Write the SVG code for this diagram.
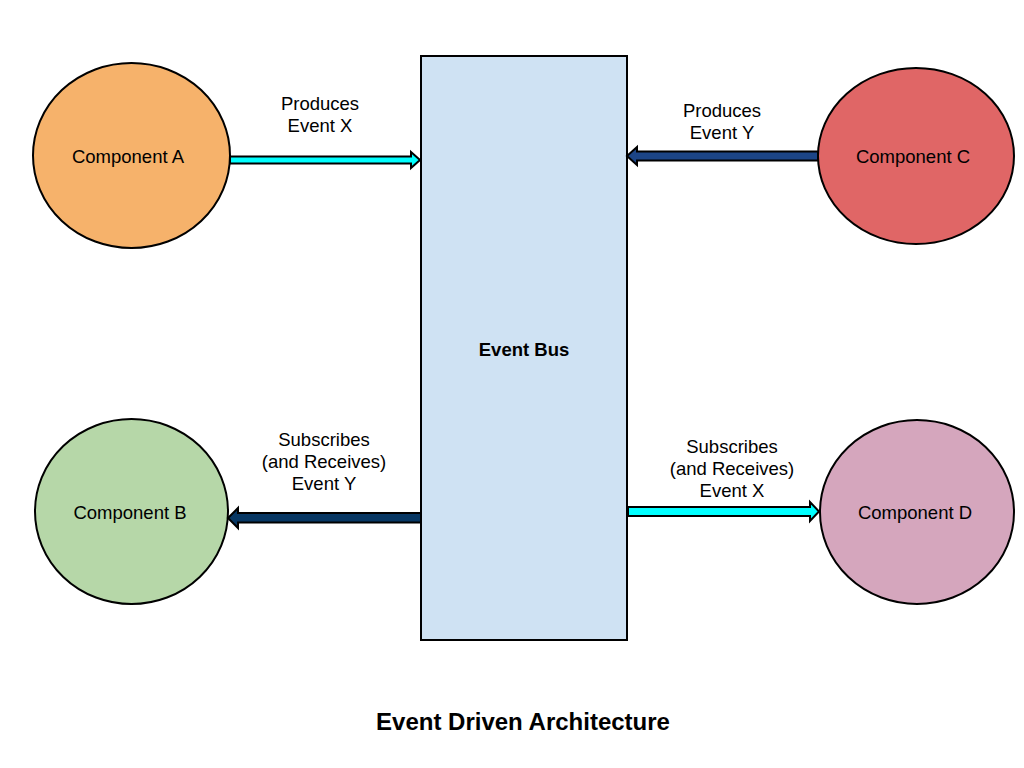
<svg xmlns="http://www.w3.org/2000/svg" width="1024" height="768" viewBox="0 0 1024 768">
<style>
.node{stroke:#000;stroke-width:2}
.lbl{font-family:"Liberation Sans",Arial,sans-serif;font-size:18.5px;fill:#000;text-anchor:middle}
.b{font-weight:bold}
.title{font-size:24px}
.arr{stroke:#000;stroke-width:2;stroke-linejoin:miter}
</style>
<rect width="1024" height="768" fill="#fff"/>
<g id="bus">
<rect class="node" x="421" y="56" width="206" height="584" fill="#CFE2F3" stroke-width="1.5"/>
<text class="lbl b" x="524" y="356">Event Bus</text>
</g>
<g id="compA">
<ellipse class="node" cx="131.5" cy="155.5" rx="98.5" ry="92.5" fill="#F6B26B"/>
<text class="lbl" x="128" y="163">Component A</text>
</g>
<g id="compB">
<ellipse class="node" cx="131.5" cy="511.5" rx="96.5" ry="92.5" fill="#B6D7A8"/>
<text class="lbl" x="130" y="519">Component B</text>
</g>
<g id="compC">
<ellipse class="node" cx="916" cy="156" rx="98" ry="88" fill="#E06666"/>
<text class="lbl" x="913" y="163">Component C</text>
</g>
<g id="compD">
<ellipse class="node" cx="917" cy="512" rx="97" ry="92" fill="#D5A6BD"/>
<text class="lbl" x="915" y="519">Component D</text>
</g>
<g id="connectors">
<polygon class="arr" fill="#00FFFF" points="230,156.5 411,156.5 411,152 420,160 411,168 411,163.5 230,163.5"/>
<polygon class="arr" fill="#1C4587" points="818,151.5 637,151.5 637,147 627,156 637,165 637,160.5 818,160.5"/>
<polygon class="arr" fill="#073763" points="421,513 238,513 238,508 228,518 238,528 238,522.5 421,522.5"/>
<polygon class="arr" fill="#00FFFF" points="628,507 810,507 810,502 819,511.5 810,521 810,516 628,516"/>
<text class="lbl" x="320" y="110">Produces</text>
<text class="lbl" x="320" y="132">Event X</text>
<text class="lbl" x="722" y="117">Produces</text>
<text class="lbl" x="722" y="139">Event Y</text>
<text class="lbl" x="324" y="446">Subscribes</text>
<text class="lbl" x="324" y="468">(and Receives)</text>
<text class="lbl" x="324" y="490">Event Y</text>
<text class="lbl" x="732" y="453">Subscribes</text>
<text class="lbl" x="732" y="475">(and Receives)</text>
<text class="lbl" x="732" y="497">Event X</text>
</g>
<text class="lbl b title" x="523" y="730">Event Driven Architecture</text>
</svg>
